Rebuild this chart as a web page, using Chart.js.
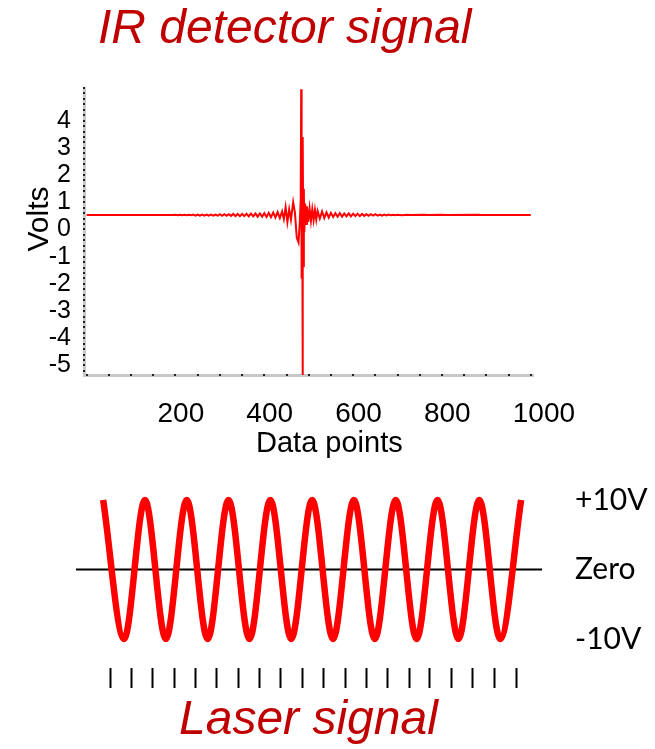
<!DOCTYPE html>
<html>
<head>
<meta charset="utf-8">
<title>IR detector signal / Laser signal</title>
<script src="https://cdn.jsdelivr.net/npm/chart.js@4.4.1/dist/chart.umd.min.js"></script>
<style>
  html,body{margin:0;padding:0;background:#fff;}
  #page{position:relative;width:655px;height:749px;overflow:hidden;font-family:"Liberation Sans",Arial,sans-serif;}
  canvas{position:absolute;left:0;}
  #irChart{top:0;}
  #laserChart{top:470px;}
  .title{position:absolute;font-style:italic;font-size:48px;line-height:48px;color:#c00000;white-space:nowrap;}
  .axisTitle{position:absolute;color:#000;white-space:nowrap;}
</style>
</head>
<body>
<div id="page">
  <canvas id="irChart" width="655" height="470"></canvas>
  <canvas id="laserChart" width="655" height="279"></canvas>
  <div class="title" style="left:98px;top:3px">IR detector signal</div>
  <div class="axisTitle" style="left:-12px;top:204px;width:100px;height:30px;font-size:30px;line-height:30px;text-align:center;transform:rotate(-90deg)">Volts</div>
  <div class="axisTitle" style="left:256px;top:428px;font-size:29px;line-height:29px">Data points</div>
  <div class="title" style="left:179px;top:694px">Laser signal</div>
</div>
<script>
// interferogram (data point index, volts)
const irX = [0, 100, 195, 200, 205, 210, 215, 220, 225, 230,
  235, 240, 245, 250, 255, 260, 265, 270, 275, 280,
  285, 290, 295, 300, 305, 310, 315, 320, 325, 330,
  335, 340, 345, 350, 355, 360, 365, 370, 375, 380,
  385, 390, 395, 400, 405, 410, 415, 420, 425, 430,
  435, 440, 444, 448, 452, 456, 460, 465, 469, 473,
  477, 480, 482, 483, 484, 485, 486, 487, 488, 489,
  490, 492, 494, 496, 499, 502, 505, 508, 511, 514,
  517, 520, 525, 530, 535, 540, 545, 550, 555, 560,
  565, 570, 575, 580, 585, 590, 595, 600, 605, 610,
  615, 620, 625, 630, 635, 640, 645, 650, 655, 660,
  665, 670, 675, 680, 685, 690, 695, 700, 710, 720,
  730, 760, 770, 800, 810, 880, 890, 1000];
const irY = [0.53, 0.53, 0.53, 0.54, 0.52, 0.54, 0.52, 0.54, 0.52, 0.54,
  0.52, 0.55, 0.51, 0.55, 0.51, 0.55, 0.51, 0.55, 0.51, 0.55,
  0.51, 0.55, 0.51, 0.56, 0.50, 0.56, 0.50, 0.56, 0.50, 0.57,
  0.49, 0.57, 0.49, 0.57, 0.49, 0.58, 0.48, 0.58, 0.48, 0.59,
  0.47, 0.59, 0.47, 0.60, 0.46, 0.61, 0.45, 0.62, 0.44, 0.64,
  0.42, 0.66, 0.38, 0.82, 0.27, 0.74, 0.36, 1.00, 0.62, -0.30,
  -0.48, 0.30, 1.10, 5.15, -1.80, 3.40, -5.50, 3.30, -1.35, 1.50,
  -0.10, 0.95, 0.20, 0.85, 0.28, 0.78, 0.32, 0.74, 0.34, 0.72,
  0.36, 0.68, 0.40, 0.66, 0.42, 0.63, 0.44, 0.61, 0.46, 0.60,
  0.47, 0.60, 0.47, 0.59, 0.48, 0.59, 0.48, 0.58, 0.49, 0.58,
  0.49, 0.57, 0.50, 0.56, 0.50, 0.56, 0.51, 0.56, 0.51, 0.55,
  0.51, 0.55, 0.52, 0.55, 0.52, 0.54, 0.52, 0.54, 0.52, 0.54,
  0.53, 0.54, 0.53, 0.54, 0.53, 0.54, 0.53, 0.53];
const irXTicks = [200, 400, 600, 800, 1000];
const irYTicks = [-5, -4, -3, -2, -1, 0, 1, 2, 3, 4];

// laser reference: peaks and troughs (fringe count, volts)
const laserX = [0, 0.5, 1, 1.5, 2, 2.5, 3, 3.5, 4, 4.5, 5, 5.5, 6, 6.5, 7, 7.5, 8, 8.5, 9, 9.5, 10];
const laserY = [10, -10, 10, -10, 10, -10, 10, -10, 10, -10, 10, -10, 10, -10, 10, -10, 10, -10, 10, -10, 10];
const zeroX = [-0.65, 10.5];
const zeroY = [0, 0];
const sampleMarks = [0.17, 0.67, 1.18, 1.70, 2.21, 2.72, 3.24, 3.74, 4.25, 4.77,
  5.27, 5.79, 6.31, 6.81, 7.32, 7.82, 8.34, 8.84, 9.36, 9.88];
const levelValues = [-10, 0, 10];
const levelLabels = ['-10V', 'Zero', '+10V'];

const axisDots = {
  id: 'axisDots',
  afterDraw(chart){
    const {ctx, chartArea, scales:{x, y}} = chart;
    ctx.save();
    ctx.fillStyle = '#222';
    for(let v=0; v<=1000; v+=50){ ctx.fillRect(Math.round(x.getPixelForValue(v))-1, chartArea.bottom-1, 2, 2); }
    for(let k=-26; k<=26; k++){ ctx.fillRect(chartArea.left-1, Math.round(y.getPixelForValue(k/5))-1, 2, 2); }
    ctx.restore();
  }
};

function init(){
  const tickFont = { family:'Liberation Sans', size:28 };
  new Chart(document.getElementById('irChart').getContext('2d'), {
    type:'line',
    data:{ datasets:[{ data: irX.map((x,i)=>({x, y: irY[i]})), borderColor:'#ff0000', borderWidth:2, pointRadius:0, tension:0 }] },
    options:{
      responsive:false, animation:false, events:[],
      layout:{ padding:{ top:88, right:122, bottom:0, left:0 } },
      plugins:{ legend:{ display:false }, tooltip:{ enabled:false } },
      scales:{
        x:{ type:'linear', min:-6, max:1005,
          afterBuildTicks: s => { s.ticks = irXTicks.map(v => ({value:v})); },
          afterFit: s => { s.height = 95; s.paddingLeft = 0; s.paddingRight = 0; },
          grid:{ display:false }, border:{ color:'#c8c8c8', width:3 },
          ticks:{ autoSkip:false, maxRotation:0, align:'start', labelOffset:-18, padding:14, color:'#000', font:tickFont, callback: v => String(v) } },
        y:{ type:'linear', min:-5.35, max:5.2,
          afterBuildTicks: s => { s.ticks = irYTicks.map(v => ({value:v})); },
          afterFit: s => { s.width = 84; s.paddingTop = 0; s.paddingBottom = 0; },
          grid:{ display:false }, border:{ color:'#c8c8c8', width:3 },
          ticks:{ autoSkip:false, padding:5, color:'#000', font:{ family:'Liberation Sans', size:25 }, callback: v => String(v) } }
      }
    },
    plugins:[axisDots]
  });

  new Chart(document.getElementById('laserChart').getContext('2d'), {
    type:'line',
    data:{ datasets:[
      { data: laserX.map((x,i)=>({x, y: laserY[i]})), borderColor:'#ff0000', borderWidth:6.5, pointRadius:0, cubicInterpolationMode:'monotone', borderCapStyle:'butt' },
      { data: zeroX.map((x,i)=>({x, y: zeroY[i]})), borderColor:'#000', borderWidth:2, pointRadius:0 }
    ] },
    options:{
      responsive:false, animation:false, events:[],
      layout:{ padding:{ top:20, right:0, bottom:0, left:76 } },
      plugins:{ legend:{ display:false }, tooltip:{ enabled:false } },
      scales:{
        x:{ type:'linear', min:-0.65, max:10.5,
          afterBuildTicks: s => { s.ticks = sampleMarks.map(v => ({value:v})); },
          afterFit: s => { s.height = 81; s.paddingLeft = 0; s.paddingRight = 0; },
          border:{ display:false },
          grid:{ drawOnChartArea:false, drawTicks:true, tickLength:20, tickWidth:2, tickColor:'#000' },
          ticks:{ display:false } },
        y:{ type:'linear', position:'right', min:-14.17, max:11.44,
          afterBuildTicks: s => { s.ticks = levelValues.map(v => ({value:v})); },
          afterFit: s => { s.width = 113; s.paddingTop = 0; s.paddingBottom = 0; },
          border:{ display:false }, grid:{ display:false },
          ticks:{ autoSkip:false, padding:25, color:'#000', font:{ family:'Lato', size:30 }, callback: (v,i) => levelLabels[i] } }
      }
    }
  });
}

document.addEventListener('DOMContentLoaded', () => {
  const loads = ['28px "Liberation Sans"', '30px Lato'].map(f => document.fonts.load(f));
  Promise.all(loads).then(init, init);
});
</script>
</body>
</html>
